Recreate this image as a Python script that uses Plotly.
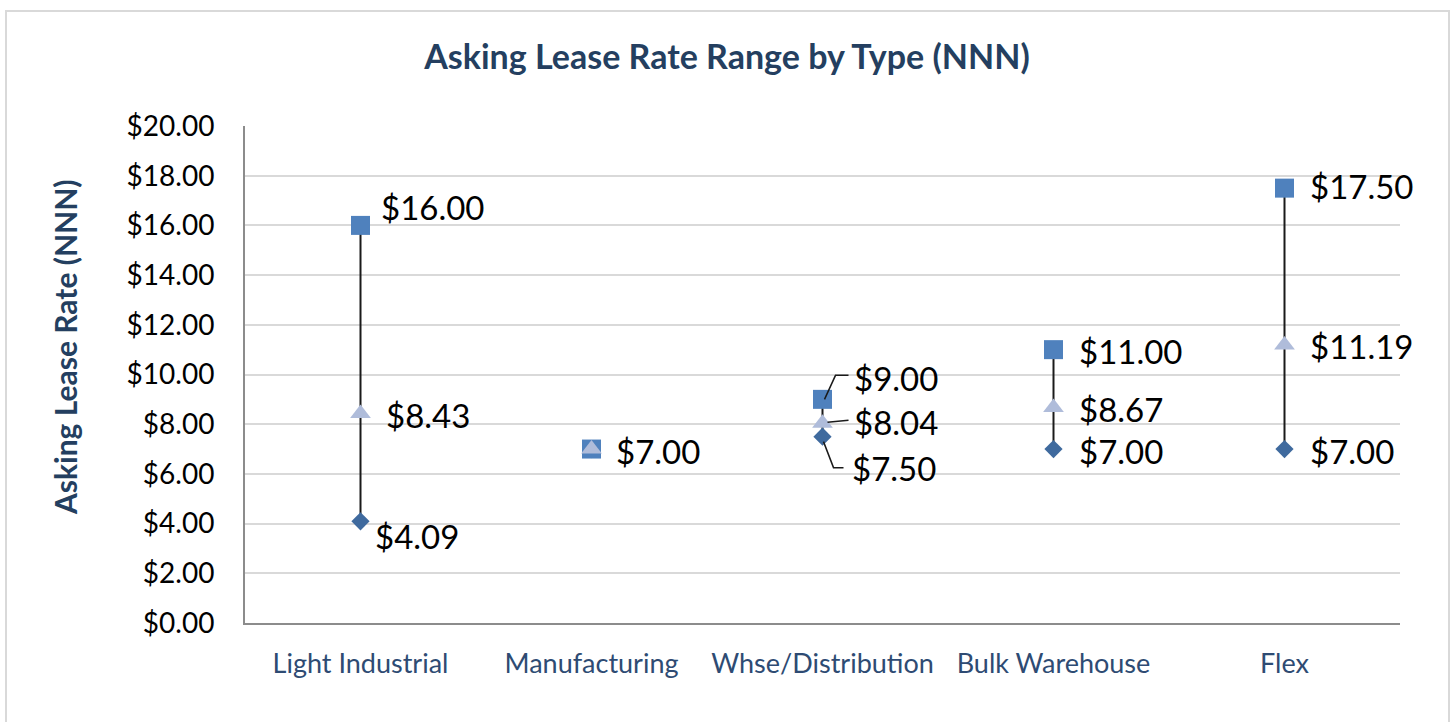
import plotly.graph_objects as go

# ---- data ----
categories = ["Light Industrial", "Manufacturing", "Whse/Distribution", "Bulk Warehouse", "Flex"]
high_rate = [16.00, 7.00, 9.00, 11.00, 17.50]
avg_rate = [8.43, 7.00, 8.04, 8.67, 11.19]
low_rate = [4.09, 7.00, 7.50, 7.00, 7.00]
y_ticks = [0, 2, 4, 6, 8, 10, 12, 14, 16, 18, 20]

# ---- style ----
FONT = "Lato, 'Open Sans', sans-serif"
NAVY = "#243F60"
C_HIGH = "#4F81BD"
C_AVG = "#AFBCDA"
C_LOW = "#3F6A9E"

fig = go.Figure()

# high-low lines
lx, ly = [], []
for c, lo, hi in zip(categories, low_rate, high_rate):
    lx += [c, c, None]
    ly += [lo, hi, None]
fig.add_trace(go.Scatter(x=lx, y=ly, mode="lines", line=dict(color="#1a1a1a", width=2),
                         hoverinfo="skip", showlegend=False))

fig.add_trace(go.Scatter(x=categories, y=low_rate, mode="markers", name="Low",
                         marker=dict(symbol="diamond", size=14, color=C_LOW), showlegend=False))
fig.add_trace(go.Scatter(x=categories, y=high_rate, mode="markers", name="High",
                         marker=dict(symbol="square", size=19, color=C_HIGH), showlegend=False))
fig.add_trace(go.Scatter(x=categories, y=avg_rate, mode="markers", name="Average",
                         marker=dict(symbol="triangle-up", size=18, color=C_AVG), showlegend=False))

# label offsets (pixels): (xshift, yshift) per series per category
off_high = [(18, 18), (22, -2), (29, 21), (23, -1), (23, 2)]
off_avg = [(23, -1), None, (29, 1), (23, -1), (23, -1)]
off_low = [(12, -15), None, (27, -31), (23, -2), (23, -2)]

annotations = []
for series, offs in ((high_rate, off_high), (avg_rate, off_avg), (low_rate, off_low)):
    for c, v, o in zip(categories, series, offs):
        if o is None:
            continue
        annotations.append(dict(x=c, y=v, xref="x", yref="y", text=f"${v:.2f}",
                                showarrow=False, xanchor="left", yanchor="middle",
                                xshift=o[0], yshift=o[1],
                                font=dict(family=FONT, size=33, color="#000000")))

# y-axis title (placed like the original, slightly above the plot-area centre)
annotations.append(dict(text="<b>Asking Lease Rate (NNN)</b>", textangle=-90,
                        xref="paper", yref="paper",
                        x=(65 - 245) / 1155, y=(623 - 347) / 497,
                        xanchor="center", yanchor="middle", showarrow=False,
                        font=dict(family=FONT, size=30, color=NAVY)))

shapes = []
# leader lines for Whse/Distribution labels (pixel offsets relative to the point)
wi = categories.index("Whse/Distribution")
leaders = [
    (high_rate[wi], "M 2,0 L 13,24 L 26,24"),
    (avg_rate[wi], "M 5,1 L 26,3"),
    (low_rate[wi], "M 1,-5 L 11,-31 L 21,-31"),
]
for v, p in leaders:
    shapes.append(dict(type="path", xref="x", yref="y", xsizemode="pixel", ysizemode="pixel",
                       xanchor=categories[wi], yanchor=v, path=p,
                       line=dict(color="#1a1a1a", width=1.5)))

# outer chart border
shapes.append(dict(type="rect", xref="paper", yref="paper",
                   x0=(6 - 245) / 1155, x1=(1449 - 245) / 1155,
                   y0=-0.3, y1=(623 - 11) / 497,
                   line=dict(color="#D9D9D9", width=2), fillcolor="rgba(0,0,0,0)", layer="below"))

fig.update_layout(
    width=1454, height=722,
    margin=dict(l=245, r=54, t=126, b=99),
    paper_bgcolor="white", plot_bgcolor="white",
    title=dict(text="<b>Asking Lease Rate Range by Type (NNN)</b>", x=0.5, xref="container",
               xanchor="center", y=1 - 57 / 722, yanchor="middle",
               font=dict(family=FONT, size=34, color=NAVY)),
    xaxis=dict(type="category", categoryorder="array", categoryarray=categories,
               range=[-0.5, len(categories) - 0.5], showgrid=False,
               showline=True, linecolor="#8C8C8C", linewidth=2, ticks="",
               tickfont=dict(family=FONT, size=27, color="#2E4B73"),
               ticklabelstandoff=16),
    yaxis=dict(range=[0, 20], tickvals=y_ticks, tickformat="$.2f",
               showgrid=True, gridcolor="#D9D9D9", gridwidth=2,
               showline=True, linecolor="#8C8C8C", linewidth=2, ticks="",
               zeroline=False,
               tickfont=dict(family=FONT, size=28, color="#000000"),
               ticklabelstandoff=23),
    annotations=annotations,
    shapes=shapes,
)

fig.write_html("out.html", config={"displayModeBar": False},
               post_script="document.body.style.margin='0px';")
